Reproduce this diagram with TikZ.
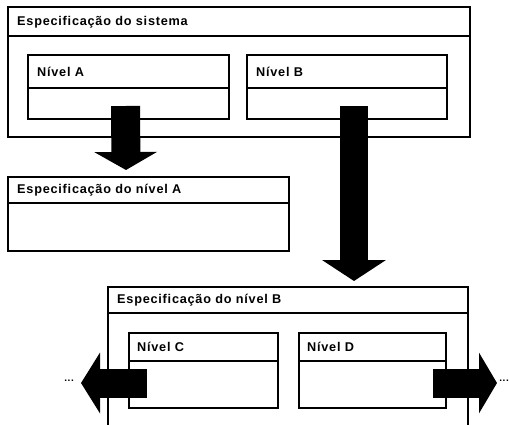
\documentclass[tikz,border=0pt]{standalone}
\usepackage{fontspec}
\setmainfont{Liberation Sans}[LetterSpace=6]
\usetikzlibrary{arrows.meta}
\tikzset{
  box/.style={draw=black, line width=1.4pt, fill=white, rectangle, inner sep=0pt, outer sep=0pt, anchor=north west},
  divider/.style={draw=black, line width=1.4pt},
  lbl/.style={anchor=west, inner sep=0pt, font=\fontsize{12.7}{14}\selectfont\bfseries},
  dots/.style={inner sep=0pt, font=\fontsize{10}{12}\selectfont\bfseries},
}
\begin{document}
\begin{tikzpicture}[x=1pt,y=-1pt]
\useasboundingbox (0,0) rectangle (509,424);
% system spec
\node[box, minimum width=462pt, minimum height=130pt] (sys) at (8,7) {};
\draw[divider] (8,36) -- (470,36);
\node[lbl] (sysT) at (17,22) {Especificação do sistema};
% Nivel A
\node[box, minimum width=201pt, minimum height=64pt] (nA) at (28,55) {};
\draw[divider] (28,88) -- (229,88);
\node[lbl] (nAT) at (37,71.5) {Nível A};
% Nivel B
\node[box, minimum width=200pt, minimum height=64pt] (nB) at (247,55) {};
\draw[divider] (247,88) -- (447,88);
\node[lbl] (nBT) at (256,71.5) {Nível B};
% spec A
\node[box, minimum width=281pt, minimum height=74pt] (sA) at (8,177) {};
\draw[divider] (8,203) -- (289,203);
\node[lbl] (sAT) at (17,190) {Especificação do nível A};
% spec B (open at bottom)
\draw[divider, fill=white] (108,440) -- (108,287) -- (468,287) -- (468,440);
\draw[divider] (108,313) -- (468,313);
\node[lbl] (sBT) at (117,300) {Especificação do nível B};
% Nivel C
\node[box, minimum width=149pt, minimum height=75pt] (nC) at (129,333) {};
\draw[divider] (129,361) -- (278,361);
\node[lbl] (nCT) at (137,347) {Nível C};
% Nivel D
\node[box, minimum width=147pt, minimum height=75pt] (nD) at (299,333) {};
\draw[divider] (299,361) -- (446,361);
\node[lbl] (nDT) at (307,347) {Nível D};
% arrows
\coordinate (aS) at (125.5,106);
\coordinate (aE) at (126,170);
\draw[line width=29pt, -{Triangle[length=18pt,width=62pt]}] (aS) -- (aE);
\coordinate (bS) at (354,106);
\coordinate (bE) at (354,281);
\draw[line width=28pt, -{Triangle[length=21pt,width=63pt]}] (bS) -- (bE);
\coordinate (cS) at (147,383);
\coordinate (cE) at (81,383);
\draw[line width=29pt, -{Triangle[length=19pt,width=60pt]}] (cS) -- (cE);
\coordinate (dS) at (433,383);
\coordinate (dE) at (497,383);
\draw[line width=29pt, -{Triangle[length=18pt,width=60pt]}] (dS) -- (dE);
\node[dots, anchor=east] (dl) at (74,381) {...};
\node[dots, anchor=east] (dr) at (509,381) {...};
\end{tikzpicture}
\end{document}
